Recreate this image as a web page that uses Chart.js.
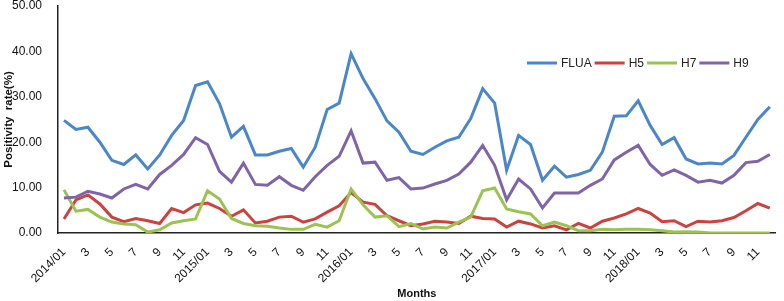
<!DOCTYPE html>
<html>
<head>
<meta charset="utf-8">
<script src="https://cdn.jsdelivr.net/npm/chart.js@4.4.1/dist/chart.umd.min.js"></script>
<style>
  html, body { margin: 0; padding: 0; background: #fff; }
  #wrap { width: 784px; height: 301px; position: relative; }
</style>
</head>
<body>
<div id="wrap"><canvas id="chart"></canvas></div>
<script>
// months 2014/01 .. 2018/12
const years = [2014, 2015, 2016, 2017, 2018];
const months = [];
years.forEach(y => {
  for (let m = 1; m <= 12; m++) {
    months.push(m === 1 ? `${y}/01` : String(m));
  }
});

const yTicks = [0, 10, 20, 30, 40, 50];

const flua = [
  24.8, 22.8, 23.3, 20.0, 16.0, 15.1, 17.2, 14.1, 17.2, 21.5, 24.8, 32.5,
  33.3, 28.5, 21.1, 23.5, 17.2, 17.2, 18.0, 18.6, 14.5, 18.9, 27.2, 28.6,
  39.5, 34.0, 29.6, 24.7, 22.2, 18.0, 17.3, 18.9, 20.3, 21.1, 25.2, 31.8,
  28.6, 13.8, 21.5, 19.5, 11.6, 14.7, 12.3, 12.9, 13.8, 17.8, 25.7, 25.8,
  29.1, 23.7, 19.5, 21.0, 16.3, 15.2, 15.4, 15.2, 17.1, 21.1, 25.0, 27.8
];

const h5 = [
  3.1, 7.3, 8.4, 6.4, 3.5, 2.5, 3.2, 2.7, 2.1, 5.4, 4.5, 6.2,
  6.6, 5.4, 3.7, 5.1, 2.2, 2.6, 3.5, 3.7, 2.4, 3.1, 4.6, 6.0,
  8.9, 6.8, 6.3, 3.8, 2.7, 1.6, 2.0, 2.6, 2.4, 2.1, 3.7, 3.2,
  3.1, 1.3, 2.6, 2.0, 1.1, 1.6, 0.7, 2.1, 1.1, 2.6, 3.3, 4.2,
  5.4, 4.4, 2.5, 2.7, 1.4, 2.6, 2.4, 2.7, 3.4, 4.9, 6.5, 5.5
];

const h7 = [
  9.5, 4.8, 5.2, 3.5, 2.4, 2.0, 1.8, 0.2, 0.7, 2.2, 2.7, 3.1,
  9.3, 7.5, 3.2, 2.1, 1.6, 1.5, 1.1, 0.8, 0.8, 1.9, 1.3, 2.7,
  9.7, 6.2, 3.5, 3.8, 1.4, 2.1, 0.9, 1.3, 1.1, 2.4, 3.5, 9.3,
  9.9, 5.3, 4.7, 4.2, 1.6, 2.4, 1.6, 0.5, 0.5, 0.8, 0.7, 0.8,
  0.8, 0.7, 0.5, 0.2, 0.3, 0.2, 0.0, 0.0, 0.0, 0.0, 0.0, 0.0
];

const h9 = [
  7.7, 7.9, 9.2, 8.6, 7.7, 9.7, 10.7, 9.7, 12.9, 14.9, 17.3, 21.0,
  19.5, 13.6, 11.2, 15.4, 10.7, 10.5, 12.4, 10.5, 9.4, 12.4, 14.9, 16.9,
  22.5, 15.4, 15.6, 11.6, 12.2, 9.7, 9.9, 10.8, 11.6, 13.0, 15.6, 19.3,
  14.9, 7.3, 11.9, 9.7, 5.5, 8.8, 8.8, 8.8, 10.5, 11.9, 16.1, 17.8,
  19.3, 15.1, 12.7, 13.9, 12.7, 11.2, 11.6, 11.0, 12.7, 15.5, 15.8, 17.3
];

const FONT = "'Liberation Sans', Arial, sans-serif";

function line(label, data, color, order) {
  return {
    label, data,
    borderColor: color,
    backgroundColor: color,
    borderWidth: 3,
    tension: 0,
    pointRadius: 0,
    fill: false,
    order
  };
}

// legend drawn by hand, same spot as the original (inside plot, upper right)
const lineLegend = {
  id: 'lineLegend',
  afterDraw(chart) {
    const ctx = chart.ctx;
    let x = 527;
    const y = 63;
    ctx.save();
    ctx.font = `12px ${FONT}`;
    ctx.textBaseline = 'middle';
    ctx.fillStyle = '#222';
    chart.data.datasets.forEach(ds => {
      ctx.strokeStyle = ds.borderColor;
      ctx.lineWidth = 3;
      ctx.beginPath();
      ctx.moveTo(x, y);
      ctx.lineTo(x + 30, y);
      ctx.stroke();
      x += 34;
      ctx.fillText(ds.label, x, y + 1);
      x += ctx.measureText(ds.label).width + 3;
    });
    ctx.restore();
  }
};

new Chart(document.getElementById('chart'), {
  type: 'line',
  data: {
    labels: months,
    datasets: [
      line('FLUA', flua, '#4a86c8', 4),
      line('H5', h5, '#c9443f', 3),
      line('H7', h7, '#9bc352', 2),
      line('H9', h9, '#8064a8', 1)
    ]
  },
  options: {
    responsive: true,
    maintainAspectRatio: false,
    animation: false,
    layout: { padding: { top: 0, right: 1, left: 0, bottom: 0 } },
    plugins: {
      legend: { display: false },
      tooltip: { enabled: false }
    },
    scales: {
      x: {
        offset: true,
        grid: { display: false },
        border: { display: true, color: '#222', width: 1.5 },
        ticks: {
          autoSkip: false,
          maxRotation: 45,
          minRotation: 45,
          padding: 4,
          color: '#111',
          font: { family: FONT, size: 12 },
          callback: (val, idx) => (idx % 2 === 0 ? months[idx] : '')
        },
        title: {
          display: true,
          text: 'Months',
          color: '#111',
          padding: { top: 0, bottom: 0 },
          font: { family: FONT, size: 11, weight: 'bold' }
        },
        afterFit: s => { s.height = 68; }
      },
      y: {
        min: 0,
        max: 50,
        grid: { display: false },
        border: { display: true, color: '#222', width: 1.5 },
        afterBuildTicks: s => { s.ticks = yTicks.map(v => ({ value: v })); },
        ticks: {
          padding: 8,
          color: '#111',
          font: { family: FONT, size: 12 },
          callback: v => v.toFixed(2)
        },
        title: {
          display: true,
          text: 'Positivity  rate(%)',
          color: '#111',
          padding: { top: 2, bottom: 0 },
          font: { family: FONT, size: 11.5, weight: 'bold' }
        },
        afterFit: s => { s.width = 58; s.paddingTop = 6; }
      }
    }
  },
  plugins: [lineLegend]
});
</script>
</body>
</html>
